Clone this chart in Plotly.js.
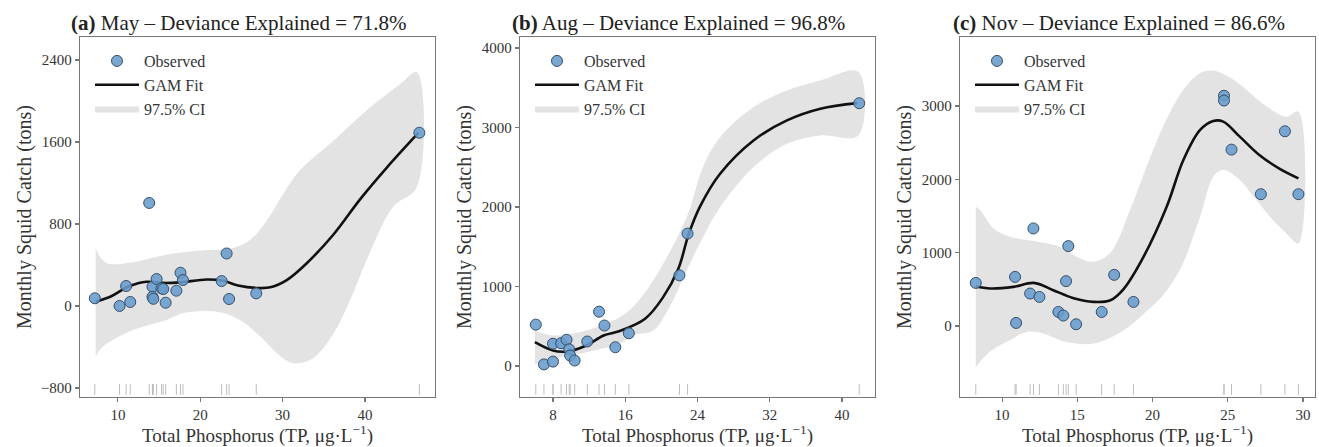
<!DOCTYPE html>
<html><head><meta charset="utf-8">
<script src="https://cdn.plot.ly/plotly-3.0.1.min.js"></script>
<style>html,body{margin:0;padding:0;background:#fff}</style>
</head><body><div id="chart" style="width:1319px;height:447px"></div>
<script>
// ---------- Panel (a) May ----------
const aObsX = [7.2, 10.2, 11.0, 11.5, 13.8, 14.2, 14.2, 14.3, 14.7, 15.3, 15.5, 15.8, 17.1, 17.6, 17.9, 22.6, 23.2, 23.5, 26.8, 46.6];
const aObsY = [75, 0, 195, 39, 1005, 188, 90, 70, 263, 172, 165, 32, 149, 324, 253, 243, 512, 68, 123, 1690];
const aFitX = [7.3, 9.2, 11.3, 13.5, 15.5, 17.5, 20.8, 22.8, 24.6, 26.8, 28.5, 30.5, 32.9, 36.2, 39.4, 42.6, 46.5];
const aFitY = [42, 95, 190, 236, 225, 230, 258, 246, 200, 176, 182, 253, 415, 700, 1040, 1345, 1690];
const aUpX = [7.3, 8.6, 11.9, 15.9, 20.0, 23.6, 26.0, 28.1, 30.1, 32.1, 36.2, 40.2, 44.3, 46.3];
const aUpY = [561, 420, 430, 500, 540, 560, 642, 837, 1096, 1323, 1615, 1907, 2167, 2280];
const aLoX = [7.3, 8.2, 11.9, 15.9, 17.9, 21.9, 24.8, 27.3, 29.3, 31.3, 33.7, 36.2, 38.2, 40.2, 43.4, 46.3];
const aLoY = [-493, -396, -233, -136, -71, -55, -136, -298, -460, -558, -509, -266, 58, 448, 966, 1161];

// ---------- Panel (b) Aug ----------
const bObsX = [6.1, 7.0, 8.0, 8.0, 8.9, 9.5, 9.8, 9.9, 10.4, 11.8, 13.1, 13.7, 14.9, 16.4, 22.0, 22.9, 41.9];
const bObsY = [520, 20, 55, 280, 287, 330, 210, 132, 69, 308, 683, 509, 236, 412, 1140, 1665, 3305];
const bFitX = [6.0, 8.0, 9.5, 11.7, 13.6, 15.4, 18.2, 20.2, 21.9, 23.0, 24.3, 26.5, 30.2, 33.9, 37.6, 41.7];
const bFitY = [300, 195, 182, 258, 384, 440, 594, 866, 1230, 1650, 2010, 2418, 2837, 3089, 3236, 3306];
const bUpX = [6.0, 8.0, 11.7, 15.4, 17.0, 19.1, 22.8, 24.6, 26.5, 30.2, 33.9, 37.6, 41.8];
const bUpY = [447, 384, 447, 614, 761, 1075, 1872, 2501, 2878, 3256, 3466, 3592, 3700];
const bLoX = [6.0, 8.0, 11.7, 15.4, 17.0, 19.1, 20.9, 22.8, 24.6, 26.5, 30.2, 33.9, 37.6, 41.8];
const bLoY = [20, 94, 174, 283, 390, 447, 740, 1201, 1620, 1998, 2501, 2795, 2900, 2900];

// ---------- Panel (c) Nov ----------
const cObsX = [8.25, 10.86, 10.93, 11.86, 12.08, 12.48, 13.74, 14.07, 14.25, 14.4, 14.92, 16.62, 17.45, 18.73, 24.75, 24.75, 25.25, 27.2, 28.8, 29.7];
const cObsY = [587, 669, 41, 442, 1330, 396, 191, 142, 611, 1089, 23, 191, 697, 328, 3140, 3074, 2405, 1797, 2655, 1797];
const cFitX = [8.25, 9.2, 10.75, 12.1, 13.4, 14.7, 16.07, 17.2, 18.06, 19.4, 20.94, 22.05, 23.16, 24.04, 24.7, 25.8, 27.1, 28.4, 29.7];
const cFitY = [542, 511, 533, 587, 488, 382, 328, 351, 500, 943, 1626, 2263, 2673, 2796, 2787, 2582, 2332, 2150, 2013];
const cUpX = [8.25, 8.54, 9.42, 10.53, 11.64, 12.75, 13.85, 14.96, 16.07, 17.2, 18.5, 19.6, 20.7, 22.05, 23.16, 24.04, 25.4, 26.5, 27.6, 28.9, 29.7];
const cUpY = [1626, 1580, 1330, 1216, 1171, 1134, 1079, 943, 874, 1000, 1580, 2172, 2718, 3220, 3448, 3483, 3356, 3175, 2992, 2855, 2923];
const cLoX = [8.25, 9.2, 10.5, 11.64, 12.75, 13.85, 14.96, 16.07, 17.2, 18.5, 19.6, 20.7, 21.9, 23.16, 24.04, 24.7, 25.8, 26.9, 28.0, 28.9, 29.7];
const cLoY = [-560, -350, -195, -82, -104, -195, -241, -241, -160, 0, 200, 420, 800, 1489, 2035, 2127, 1990, 1717, 1444, 1262, 1126];

// ---------- Text ----------
const panelTags = ['(a)', '(b)', '(c)'];
const panelMonths = ['May', 'Aug', 'Nov'];
const devExplained = ['71.8%', '96.8%', '86.6%'];
const seriesNames = ['Observed', 'GAM Fit', '97.5% CI'];
const yTitle = 'Monthly Squid Catch (tons)';
const xTitle = 'Total Phosphorus (TP, μg·L<sup>−1</sup>)';

const panels = [
  {obsX: aObsX, obsY: aObsY, fitX: aFitX, fitY: aFitY, upX: aUpX, upY: aUpY, loX: aLoX, loY: aLoY,
   xr: [5.4, 48.5], yr: [-888, 2624], xd: 10, yd: 800},
  {obsX: bObsX, obsY: bObsY, fitX: bFitX, fitY: bFitY, upX: bUpX, upY: bUpY, loX: bLoX, loY: bLoY,
   xr: [4.35, 43.65], yr: [-390, 4138], xd: 8, yd: 1000},
  {obsX: cObsX, obsY: cObsY, fitX: cFitX, fitY: cFitY, upX: cUpX, upY: cUpY, loX: cLoX, loY: cLoY,
   xr: [7.2, 30.8], yr: [-969, 3941], xd: 5, yd: 1000}
];

const W = 1319, H = 447;
const leftPx = [80, 520, 960], rightPx = [435, 875, 1315];
const topPx = 37, botPx = 397;
const FONT = '"Liberation Serif", "Times New Roman", serif';

const traces = [], shapes = [], annotations = [];
const layout = {
  width: W, height: H, margin: {l: 0, r: 0, t: 0, b: 0},
  paper_bgcolor: '#fff', plot_bgcolor: '#fff',
  font: {family: FONT, size: 15, color: '#333'},
  hovermode: false
};

panels.forEach((p, i) => {
  const s = i === 0 ? '' : String(i + 1);
  const xa = 'x' + s, ya = 'y' + s;
  const lg = 'legend' + s;
  const axBase = {
    showgrid: false, zeroline: false, showline: true, mirror: true,
    linecolor: '#777', linewidth: 1.2, ticks: 'outside', ticklen: 4, tickwidth: 1.2,
    tickcolor: '#777', tickfont: {family: FONT, size: 15, color: '#333'}, automargin: false
  };
  layout['xaxis' + s] = Object.assign({}, axBase, {
    domain: [leftPx[i] / W, rightPx[i] / W], range: p.xr, tick0: 0, dtick: p.xd, anchor: ya
  });
  layout['yaxis' + s] = Object.assign({}, axBase, {
    domain: [(H - botPx) / H, (H - topPx) / H], range: p.yr, tick0: 0, dtick: p.yd, anchor: xa
  });
  layout[lg] = {
    x: (leftPx[i] + 10) / W, y: (H - 44) / H, xanchor: 'left', yanchor: 'top',
    bgcolor: 'rgba(0,0,0,0)', borderwidth: 0, traceorder: 'normal',
    font: {family: FONT, size: 16, color: '#333'}, tracegroupgap: 0, itemwidth: 44
  };
  // CI band
  const bandX = p.upX.concat(p.loX.slice().reverse());
  const bandY = p.upY.concat(p.loY.slice().reverse());
  traces.push({
    type: 'scatter', mode: 'lines', x: bandX, y: bandY, xaxis: xa, yaxis: ya,
    fill: 'toself', fillcolor: '#e3e3e3', line: {width: 0, shape: 'spline', smoothing: 1, color: '#e3e3e3'},
    name: seriesNames[2], legend: lg, legendrank: 3
  });
  // GAM fit
  traces.push({
    type: 'scatter', mode: 'lines', x: p.fitX, y: p.fitY, xaxis: xa, yaxis: ya,
    line: {color: '#111', width: 2.6, shape: 'spline', smoothing: 1},
    name: seriesNames[1], legend: lg, legendrank: 2
  });
  // Observed
  traces.push({
    type: 'scatter', mode: 'markers', x: p.obsX, y: p.obsY, xaxis: xa, yaxis: ya,
    marker: {size: 11, color: 'rgba(104,156,204,0.88)', line: {color: '#34506c', width: 1}},
    name: seriesNames[0], legend: lg, legendrank: 1
  });
  // Rug
  p.obsX.forEach(v => {
    shapes.push({type: 'line', xref: xa, yref: ya + ' domain', x0: v, x1: v, y0: 0.006, y1: 0.036,
      line: {color: '#bdbdbd', width: 1}, layer: 'above'});
  });
  // Panel title
  const cx = (leftPx[i] + rightPx[i]) / 2 - 19;
  annotations.push({
    xref: 'paper', yref: 'paper', x: cx / W, y: (H - 23) / H, xanchor: 'center', yanchor: 'middle',
    text: '<b>' + panelTags[i] + '</b> ' + panelMonths[i] + ' – Deviance Explained = ' + devExplained[i],
    showarrow: false, font: {family: FONT, size: 21, color: '#222'}
  });
  // Y title
  annotations.push({
    xref: 'paper', yref: 'paper', x: (leftPx[i] - 56) / W, y: (H - (topPx + botPx) / 2) / H,
    xanchor: 'center', yanchor: 'middle', textangle: -90, text: yTitle, showarrow: false,
    font: {family: FONT, size: 20, color: '#333'}
  });
  // X title
  annotations.push({
    xref: 'paper', yref: 'paper', x: (leftPx[i] + rightPx[i]) / 2 / W, y: (H - 434) / H,
    xanchor: 'center', yanchor: 'middle', text: xTitle, showarrow: false,
    font: {family: FONT, size: 19, color: '#333'}
  });
});
layout.shapes = shapes;
layout.annotations = annotations;

Plotly.newPlot('chart', traces, layout, {displayModeBar: false, staticPlot: true});
</script>
</body></html>
